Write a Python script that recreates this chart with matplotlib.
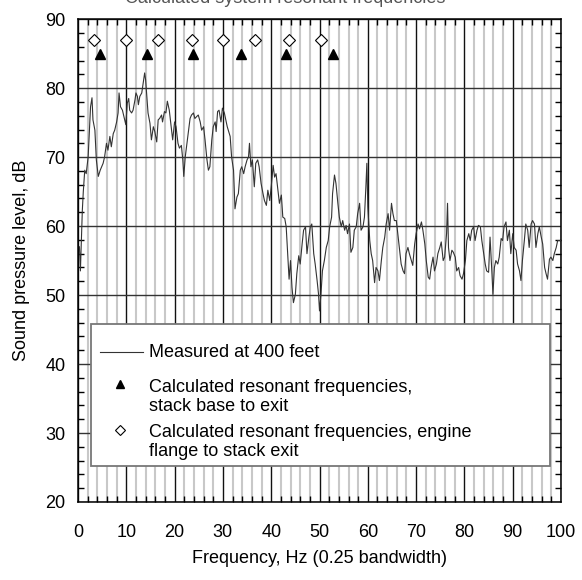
import matplotlib
matplotlib.use("Agg")
import matplotlib.pyplot as plt
from matplotlib.patches import Rectangle
from matplotlib.ticker import MultipleLocator

plt.rcParams['font.family'] = ['Liberation Sans', 'DejaVu Sans']
plt.rcParams['font.size'] = 13

# measured spectrum (Hz, dB)
freq = [0.3, 0.5, 0.7, 0.9, 1.1, 1.4, 1.7, 2.1, 2.6, 2.9, 3.1, 3.5, 3.8, 4.2, 4.6,
        5.2, 5.5, 5.9, 6.2, 6.6, 6.9, 7.3, 7.6, 8.0, 8.3, 8.5, 8.8, 9.2, 9.6, 9.9,
        10.2, 10.5, 10.7, 11.1, 11.4, 11.8, 12.0, 12.3, 12.5, 12.8, 13.2, 13.5, 13.8, 14.0, 14.3,
        14.5, 14.9, 15.2, 15.6, 15.9, 16.3, 16.6, 16.9, 17.3, 17.5, 17.9, 18.2, 18.5, 18.9, 19.3,
        19.6, 20.0, 20.3, 20.7, 21.0, 21.4, 21.7, 21.9, 22.2, 22.5, 22.9, 23.2, 23.5, 23.9, 24.2,
        24.6, 24.9, 25.3, 25.6, 26.0, 26.3, 26.7, 27.0, 27.3, 27.7, 28.0, 28.4, 28.6, 28.9, 29.2,
        29.6, 29.9, 30.3, 30.6, 30.9, 31.5, 31.8, 32.2, 32.5, 32.9, 33.2, 33.6, 33.9, 34.3, 34.6,
        35.0, 35.3, 35.5, 35.8, 36.1, 36.5, 36.8, 37.2, 37.5, 37.9, 38.3, 38.6, 39.0, 39.3, 39.7,
        40.0, 40.4, 40.7, 41.0, 41.4, 41.7, 42.1, 42.4, 42.8, 43.1, 43.4, 43.7, 44.0, 44.3, 44.6,
        45.0, 45.3, 45.7, 46.0, 46.4, 46.7, 47.1, 47.4, 47.8, 48.1, 48.4, 48.8, 49.1, 49.5, 49.8,
        50.0, 50.3, 50.6, 51.0, 51.4, 51.8, 52.1, 52.5, 52.7, 53.1, 53.4, 53.8, 54.1, 54.5, 54.8,
        55.2, 55.5, 55.8, 56.2, 56.5, 56.9, 57.2, 57.6, 57.9, 58.3, 58.6, 59.0, 59.3, 59.6, 59.8,
        60.0, 60.4, 60.7, 61.0, 61.4, 61.7, 62.1, 62.4, 62.8, 63.1, 63.5, 63.8, 64.2, 64.5, 64.9,
        65.2, 65.5, 65.9, 66.2, 66.6, 66.9, 67.3, 67.6, 67.9, 68.3, 68.6, 69.0, 69.3, 69.7, 70.0,
        70.4, 70.7, 71.1, 71.4, 71.8, 72.1, 72.5, 72.8, 73.1, 73.5, 73.8, 74.2, 74.5, 74.9, 75.2,
        75.6, 75.9, 76.3, 76.5, 76.7, 77.0, 77.4, 77.7, 78.1, 78.4, 78.8, 79.1, 79.5, 79.8, 80.2,
        80.5, 80.9, 81.2, 81.5, 81.9, 82.2, 82.6, 82.9, 83.3, 83.6, 84.0, 84.3, 84.6, 85.0, 85.3,
        85.7, 85.9, 86.2, 86.5, 86.9, 87.2, 87.6, 87.9, 88.2, 88.6, 88.9, 89.3, 89.6, 90.0, 90.3,
        90.7, 91.0, 91.4, 91.7, 92.0, 92.4, 92.7, 93.1, 93.4, 93.8, 94.1, 94.5, 94.8, 95.2, 95.5,
        95.9, 96.2, 96.6, 96.9, 97.2, 97.6, 97.9, 98.3, 98.6, 99.0, 99.3, 99.9]
level = [57.0, 53.5, 58.0, 62.3, 65.0, 68.1, 67.6, 70.0, 77.3, 78.6, 75.4, 73.9, 69.6, 67.2, 68.1,
         69.1, 70.0, 72.0, 71.0, 73.0, 71.5, 73.4, 73.9, 75.1, 76.4, 79.3, 77.3, 76.8, 75.6, 74.7,
         77.8, 78.5, 76.8, 76.4, 76.8, 78.3, 79.3, 78.8, 77.6, 78.8, 79.3, 80.7, 82.2, 81.2, 78.3,
         76.4, 74.9, 72.5, 74.4, 73.7, 72.2, 75.4, 75.6, 76.1, 75.1, 76.6, 76.4, 78.1, 76.8, 74.4,
         72.5, 75.1, 74.4, 72.0, 71.3, 71.7, 69.6, 67.2, 70.0, 71.7, 73.9, 75.6, 76.1, 76.4, 75.6,
         75.9, 76.1, 75.1, 73.9, 74.4, 72.5, 69.6, 68.1, 68.6, 72.5, 74.4, 75.1, 73.7, 76.6, 76.8,
         75.1, 77.1, 76.4, 75.4, 74.4, 73.0, 70.0, 68.1, 62.5, 64.2, 64.7, 68.1, 68.6, 67.6, 68.6,
         69.6, 70.0, 72.0, 68.6, 69.6, 65.7, 69.1, 69.6, 68.6, 66.2, 64.7, 63.7, 63.0, 65.2, 63.7,
         65.7, 68.8, 67.1, 67.6, 65.2, 63.3, 64.5, 61.3, 61.1, 59.9, 56.0, 52.3, 55.0, 51.1, 48.9,
         50.1, 53.1, 55.7, 54.5, 57.4, 59.4, 59.9, 56.0, 58.4, 59.9, 60.3, 56.0, 54.5, 52.1, 50.1,
         47.7, 50.1, 53.5, 55.0, 56.9, 57.9, 59.9, 61.3, 64.7, 67.4, 66.2, 63.3, 61.3, 59.9, 60.8,
         59.4, 60.1, 58.9, 60.3, 56.2, 56.9, 59.4, 59.9, 61.8, 63.3, 59.4, 59.9, 61.3, 65.7, 69.1,
         62.8, 57.9, 56.0, 55.0, 51.8, 54.0, 53.5, 52.1, 55.0, 56.9, 58.4, 60.3, 61.8, 59.4, 63.3,
         61.8, 60.8, 60.8, 58.9, 56.5, 54.5, 53.5, 53.1, 56.0, 56.9, 56.0, 55.0, 54.3, 57.4, 58.9,
         60.3, 59.6, 60.6, 59.4, 57.4, 55.0, 52.6, 52.3, 54.0, 55.5, 53.5, 54.5, 56.0, 56.9, 57.7,
         55.0, 55.5, 58.9, 63.3, 56.9, 55.0, 56.5, 56.2, 55.5, 53.5, 54.0, 52.8, 52.3, 53.1, 55.0,
         57.9, 58.9, 57.9, 59.4, 59.9, 57.9, 59.4, 60.1, 59.9, 57.9, 56.0, 54.5, 53.5, 53.3, 58.4,
         53.1, 50.1, 54.0, 55.0, 54.5, 55.5, 58.2, 57.9, 59.9, 60.6, 57.9, 59.4, 56.0, 58.9, 56.9,
         56.5, 54.5, 53.5, 52.1, 55.0, 57.9, 60.3, 59.4, 56.9, 60.3, 60.8, 60.3, 56.9, 58.9, 59.9,
         58.4, 57.4, 54.0, 53.1, 52.3, 55.2, 55.5, 55.0, 56.0, 56.9, 57.9, 57.9]

# calculated resonances
base_freq = [4.6, 14.3, 23.9, 33.7, 43.0, 52.7]
base_level = [85] * len(base_freq)
flange_freq = [3.4, 10.0, 16.6, 23.6, 30.0, 36.7, 43.6, 50.4]
flange_level = [87] * len(flange_freq)

fig = plt.figure(figsize=(5.82, 5.80), dpi=100)
ax = fig.add_axes([0.134, 0.1345, 0.830, 0.8325])

ax.plot(freq, level, color='#333333', lw=0.8, zorder=3)
ax.plot(base_freq, base_level, ls='none', marker='^', ms=7.5, color='black', zorder=4)
ax.plot(flange_freq, flange_level, ls='none', marker='D', ms=6, mfc='white',
        mec='black', mew=0.8, zorder=4)

ax.set_xlim(0, 100)
ax.set_ylim(20, 90)
ax.xaxis.set_major_locator(MultipleLocator(10))
ax.xaxis.set_minor_locator(MultipleLocator(2))
ax.yaxis.set_major_locator(MultipleLocator(10))
ax.yaxis.set_minor_locator(MultipleLocator(2))

ax.grid(which='minor', axis='x', color='#c8c8c8', lw=1.5, zorder=0)
ax.grid(which='major', axis='x', color='#111111', lw=1.0, zorder=1)
ax.grid(which='major', axis='y', color='#333333', lw=1.0, zorder=1)
ax.set_axisbelow(True)

ax.tick_params(which='both', direction='in', top=True, right=True, colors='black')
ax.tick_params(which='major', length=0, labelsize=13)
ax.tick_params(axis='x', which='major', pad=16)
ax.tick_params(axis='y', which='major', pad=9)
ax.tick_params(which='minor', length=4.5, width=1.0)
for s in ax.spines.values():
    s.set_linewidth(1.1)

ax.set_xlabel('Frequency, Hz (0.25 bandwidth)', labelpad=6)
ax.set_ylabel('Sound pressure level, dB', labelpad=11)

# legend box drawn by hand
ax.add_patch(Rectangle((0.027, 0.0745), 0.95, 0.294, transform=ax.transAxes,
                       facecolor='white', edgecolor='#777777', lw=1.3, zorder=5))
ax.plot([0.0455, 0.1346], [0.3106, 0.3106], transform=ax.transAxes,
        color='#333333', lw=0.8, zorder=6)
ax.plot([0.087], [0.2443], transform=ax.transAxes, marker='^', ms=6,
        color='black', zorder=6)
ax.plot([0.087], [0.149], transform=ax.transAxes, marker='D', ms=5.5,
        mfc='white', mec='black', mew=0.8, zorder=6)
ax.text(0.147, 0.3106, 'Measured at 400 feet', transform=ax.transAxes,
        va='center', zorder=7)
ax.text(0.147, 0.2174, 'Calculated resonant frequencies,\nstack base to exit',
        transform=ax.transAxes, va='center', linespacing=1.1, zorder=7)
ax.text(0.147, 0.1242, 'Calculated resonant frequencies, engine\nflange to stack exit',
        transform=ax.transAxes, va='center', linespacing=1.1, zorder=7)

# title, cut off at the top edge in the original
fig.text(0.49, 1 - 3 / 580, 'Calculated system resonant frequencies',
         ha='center', va='baseline', color='#555555', fontsize=13)

fig.savefig('out.png', dpi=100)
